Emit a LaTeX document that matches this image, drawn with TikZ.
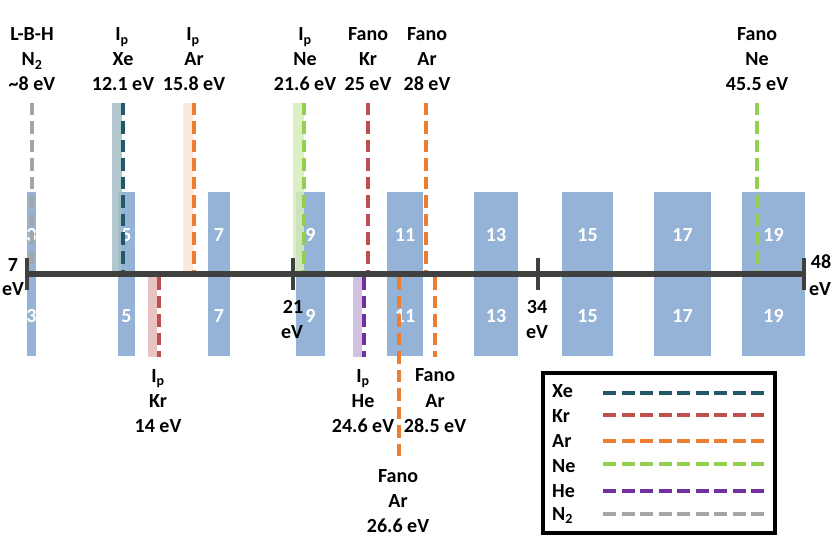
\documentclass[tikz,border=0pt]{standalone}
\usepackage{fontspec}
\setmainfont{Carlito}
\definecolor{barblue}{HTML}{95B3D7}
\definecolor{xe}{HTML}{215968}
\definecolor{xeband}{HTML}{A6BFC6}
\definecolor{kr}{HTML}{C0504D}
\definecolor{krband}{HTML}{E6B9B8}
\definecolor{ar}{HTML}{ED7D31}
\definecolor{arband}{HTML}{FCE4D4}
\definecolor{ne}{HTML}{92D050}
\definecolor{neband}{HTML}{D6ECB9}
\definecolor{he}{HTML}{7030A0}
\definecolor{heband}{HTML}{CBB8DE}
\definecolor{ntwo}{HTML}{A5A5A5}
\definecolor{axisgray}{HTML}{404040}
\begin{document}
\begin{tikzpicture}[x=1pt,y=-1pt,
  lbl/.style={font=\fontsize{20}{24}\selectfont\bfseries, inner sep=0pt, anchor=base},
  num/.style={lbl, text=white},
  leg/.style={lbl, anchor=base west},
  dline/.style={line width=4pt, dash pattern=on 12.5pt off 6pt},
  bandfill/.style={opacity=0.85},
  tick/.style={line width=4pt, axisgray}]
\useasboundingbox (0,0) rectangle (837,545);
\fill[white] (0,0) rectangle (837,545);
% harmonic bars
\foreach \l/\r/\n in {27/36/3, 118/135/5, 208/230/7, 296/325/9, 387/423/11, 474/518/13, 562/613/15, 654/711/17, 742/805/19}{
  \fill[barblue] (\l,192) rectangle (\r,356);
}
% shaded bands
\fill[xeband, bandfill] (112,103) rectangle (122,272);
\fill[arband, bandfill] (183,103) rectangle (193,272);
\fill[neband, bandfill] (293,103) rectangle (304,272);
\fill[krband, bandfill] (148,277) rectangle (157,357);
\fill[heband, bandfill] (353,277) rectangle (362,357);
% bar numbers
\foreach \l/\r/\n in {27/36/3, 118/135/5, 208/230/7, 296/325/9, 387/423/11, 474/518/13, 562/613/15, 654/711/17, 742/805/19}{
  \node[num] (u\n) at ({(\l+\r)/2},241) {\n};
  \node[num] (d\n) at ({(\l+\r)/2},322) {\n};
}
% dashed lines above axis
\coordinate (n2t) at (32,103);   \coordinate (n2b) at (32,272);
\coordinate (xet) at (123,103);  \coordinate (xeb) at (123,272);
\coordinate (art) at (194,103);  \coordinate (arb) at (194,272);
\coordinate (net) at (304,103);  \coordinate (neb) at (304,272);
\coordinate (fkt) at (368,103);  \coordinate (fkb) at (368,272);
\coordinate (fat) at (426,103);  \coordinate (fab) at (426,272);
\coordinate (fnt) at (757,103);  \coordinate (fnb) at (757,272);
\draw[dline, ntwo] (n2t) -- (n2b);
\draw[dline, xe] (xet) -- (xeb);
\draw[dline, ar] (art) -- (arb);
\draw[dline, ne] (net) -- (neb);
\draw[dline, kr] (fkt) -- (fkb);
\draw[dline, ar] (fat) -- (fab);
\draw[dline, ne] (fnt) -- (fnb);
% dashed lines below axis
\coordinate (krt) at (159,277);  \coordinate (krb) at (159,357);
\coordinate (het) at (364,277);  \coordinate (heb) at (364,357);
\coordinate (a6t) at (399,277);  \coordinate (a6b) at (399,456);
\coordinate (a5t) at (435,277);  \coordinate (a5b) at (435,357);
\draw[dline, kr] (krt) -- (krb);
\draw[dline, he] (het) -- (heb);
\draw[dline, ar] (a6t) -- (a6b);
\draw[dline, ar] (a5t) -- (a5b);
% axis
\coordinate (ax0) at (27,274);
\coordinate (ax1) at (804,274);
\draw[line width=5.5pt, axisgray] (ax0) -- (ax1);
\draw[tick] (27,258) -- (27,290);
\draw[tick] (293,258) -- (293,290);
\draw[tick] (538,258) -- (538,290);
\draw[tick] (804,258) -- (804,290);
\node[lbl] (t7) at (13,271) {7};
\node[lbl] (t7e) at (13,295) {eV};
\node[lbl] (t21) at (293,313) {21};
\node[lbl] (t21e) at (292,338) {eV};
\node[lbl] (t34) at (537,313) {34};
\node[lbl] (t34e) at (537,338) {eV};
\node[lbl] (t48) at (821,269) {48};
\node[lbl] (t48e) at (820,295) {eV};
% upper labels
\node[lbl] (a1) at (32,41) {L-B-H};
\node[lbl] (a2) at (32,66) {N\textsubscript{2}};
\node[lbl] (a3) at (32,91) {\textasciitilde8 eV};
\node[lbl] (b1) at (122,41) {I\textsubscript{p}};
\node[lbl] (b2) at (123,66) {Xe};
\node[lbl] (b3) at (123,91) {12.1 eV};
\node[lbl] (c1) at (193,41) {I\textsubscript{p}};
\node[lbl] (c2) at (194,66) {Ar};
\node[lbl] (c3) at (194,91) {15.8 eV};
\node[lbl] (d1) at (305,41) {I\textsubscript{p}};
\node[lbl] (d2) at (305,66) {Ne};
\node[lbl] (d3) at (305,91) {21.6 eV};
\node[lbl] (e1) at (368,41) {Fano};
\node[lbl] (e2) at (368,66) {Kr};
\node[lbl] (e3) at (368,91) {25 eV};
\node[lbl] (f1) at (427,41) {Fano};
\node[lbl] (f2) at (427,66) {Ar};
\node[lbl] (f3) at (427,91) {28 eV};
\node[lbl] (g1) at (757,41) {Fano};
\node[lbl] (g2) at (757,66) {Ne};
\node[lbl] (g3) at (757,91) {45.5 eV};
% lower labels
\node[lbl] (h1) at (158,382) {I\textsubscript{p}};
\node[lbl] (h2) at (158,407) {Kr};
\node[lbl] (h3) at (158,432) {14 eV};
\node[lbl] (i1) at (363,382) {I\textsubscript{p}};
\node[lbl] (i2) at (363,407) {He};
\node[lbl] (i3) at (363,432) {24.6 eV};
\node[lbl] (j1) at (435,381) {Fano};
\node[lbl] (j2) at (435,407) {Ar};
\node[lbl] (j3) at (435,432) {28.5 eV};
\node[lbl] (k1) at (398,482) {Fano};
\node[lbl] (k2) at (398,507) {Ar};
\node[lbl] (k3) at (398,532) {26.6 eV};
% legend
\node[draw, line width=3.5pt, minimum width=232pt, minimum height=160pt, inner sep=0pt] (legend) at (659,453) {};
\foreach \t/\c/\y/\ty in {Xe/xe/393/397, Kr/kr/415/422, Ar/ar/441/447, Ne/ne/464/472, He/he/491/497, N\textsubscript{2}/ntwo/514/520}{
  \node[leg] at (552,\ty) {\t};
  \draw[line width=4pt, \c, dash pattern=on 13pt off 5.5pt] (603,\y) -- (764,\y);
}
\end{tikzpicture}
\end{document}
